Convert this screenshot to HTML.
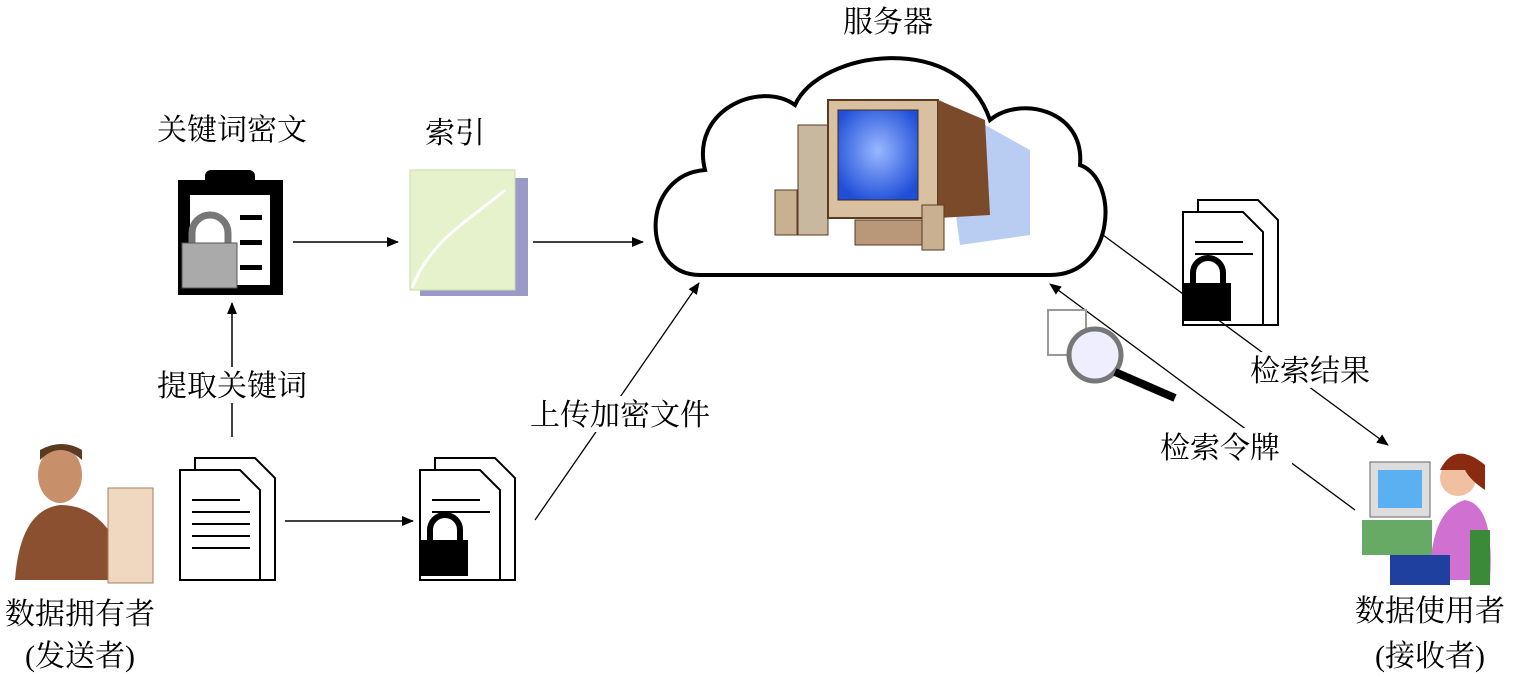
<!DOCTYPE html>
<html><head><meta charset="utf-8"><style>
html,body{margin:0;padding:0;background:#fff;width:1513px;height:677px;overflow:hidden}
text{font-family:"Liberation Serif","Noto Serif CJK SC",serif;font-size:30px;fill:#000}
</style></head><body>
<svg width="1513" height="677" viewBox="0 0 1513 677" xmlns="http://www.w3.org/2000/svg">
<defs>
<marker id="ah" markerWidth="12" markerHeight="10" refX="11" refY="5" orient="auto" markerUnits="userSpaceOnUse">
<path d="M0,0 L12,5 L0,10 z" fill="#000"/></marker>
<radialGradient id="scr" cx="50%" cy="45%" r="60%"><stop offset="0" stop-color="#9ab8ff"/><stop offset="1" stop-color="#1f4fd8"/></radialGradient>
</defs>

<!-- cloud -->
<path d="M700,275 C640,275 640,175 705,170 C690,110 760,80 795,105 C820,50 960,30 990,120 C1020,95 1085,110 1080,165 C1120,180 1115,275 1050,275 Z" fill="#fff" stroke="#000" stroke-width="4"/>
<text x="888" y="32" text-anchor="middle">服务器</text>
<!-- computer -->
<polygon points="940,100 1030,150 1030,235 960,245" fill="#a8c0f0" opacity="0.8"/>
<rect x="798" y="125" width="30" height="110" fill="#c9b8a0" stroke="#5a3a20"/>
<rect x="828" y="100" width="110" height="118" fill="#d8c0a0" stroke="#5a3a20" stroke-width="2"/>
<rect x="838" y="110" width="80" height="90" fill="url(#scr)" stroke="#3a2a1a"/>
<path d="M938,100 L985,120 L990,215 L938,218 Z" fill="#7a4a2a"/>
<rect x="855" y="220" width="80" height="25" fill="#b89878" stroke="#5a3a20"/>
<rect x="775" y="190" width="22" height="45" fill="#c8b090" stroke="#5a3a20"/>
<rect x="922" y="205" width="22" height="45" fill="#c8b090" stroke="#5a3a20"/>

<!-- clipboard -->
<text x="232" y="140" text-anchor="middle">关键词密文</text>
<rect x="178" y="180" width="105" height="115" fill="#000"/>
<rect x="205" y="170" width="50" height="20" rx="6" fill="#000"/>
<rect x="190" y="195" width="80" height="90" fill="#fff"/>
<rect x="240" y="215" width="22" height="5" fill="#000"/><rect x="240" y="240" width="22" height="5" fill="#000"/><rect x="240" y="265" width="22" height="5" fill="#000"/>
<path d="M192,245 v-12 a18,18 0 0 1 36,0 v12" fill="none" stroke="#777" stroke-width="7"/>
<rect x="182" y="243" width="55" height="45" fill="#aaa" stroke="#555"/>
<line x1="293" y1="242" x2="398" y2="242" stroke="#000" stroke-width="1.5" marker-end="url(#ah)"/>

<!-- index -->
<text x="455" y="143" text-anchor="middle">索引</text>
<rect x="420" y="178" width="108" height="118" fill="#9a9ac8"/>
<rect x="410" y="170" width="105" height="120" fill="#e6f2cc" stroke="#c8dca8"/>
<path d="M412,288 C430,240 470,220 505,190" fill="none" stroke="#fff" stroke-width="3"/>
<line x1="533" y1="242" x2="643" y2="242" stroke="#000" stroke-width="1.5" marker-end="url(#ah)"/>

<!-- extract keywords -->
<line x1="232" y1="437" x2="232" y2="303" stroke="#000" stroke-width="1.5" marker-end="url(#ah)"/>
<rect x="145" y="367" width="175" height="36" fill="#fff"/>
<text x="232" y="396" text-anchor="middle">提取关键词</text>

<!-- owner docs -->
<g stroke="#000" stroke-width="2" fill="#fff">
<path d="M195,458 h60 l20,20 v102 h-80 z"/>
<path d="M180,470 h60 l20,20 v90 h-80 z"/>
</g>
<g stroke="#000" stroke-width="2"><line x1="192" y1="500" x2="240" y2="500"/><line x1="192" y1="512" x2="250" y2="512"/><line x1="192" y1="524" x2="250" y2="524"/><line x1="192" y1="536" x2="250" y2="536"/><line x1="192" y1="548" x2="250" y2="548"/></g>
<line x1="285" y1="521" x2="413" y2="521" stroke="#000" stroke-width="1.5" marker-end="url(#ah)"/>

<!-- locked docs -->
<g stroke="#000" stroke-width="2" fill="#fff">
<path d="M435,458 h60 l20,20 v102 h-80 z"/>
<path d="M420,470 h60 l20,20 v90 h-80 z"/>
</g>
<g stroke="#000" stroke-width="2"><line x1="432" y1="500" x2="480" y2="500"/><line x1="432" y1="512" x2="490" y2="512"/></g>
<path d="M430,542 v-12 a15,15 0 0 1 30,0 v12" fill="none" stroke="#000" stroke-width="6"/>
<rect x="420" y="540" width="48" height="36" fill="#000"/>

<line x1="535" y1="520" x2="699" y2="283" stroke="#000" stroke-width="1.3" marker-end="url(#ah)"/>
<rect x="522" y="396" width="196" height="36" fill="#fff"/>
<text x="620" y="425" text-anchor="middle">上传加密文件</text>

<!-- owner person -->
<g>
<ellipse cx="60" cy="475" rx="22" ry="28" fill="#c8906a"/>
<path d="M40,460 q20,-20 42,0 v-10 q-20,-12 -42,0z" fill="#5a3a20"/>
<path d="M15,580 q5,-70 45,-75 q40,0 60,45 l-10,30 z" fill="#8a5030"/>
<rect x="108" y="488" width="45" height="95" fill="#f0d8c0" stroke="#a08060"/>
</g>
<text x="80" y="624" text-anchor="middle">数据拥有者</text>
<text x="80" y="666" text-anchor="middle">(发送者)</text>

<!-- results docs -->
<g stroke="#000" stroke-width="2" fill="#fff">
<path d="M1198,200 h60 l20,20 v105 h-80 z"/>
<path d="M1183,212 h60 l20,20 v93 h-80 z"/>
</g>
<g stroke="#000" stroke-width="2"><line x1="1195" y1="242" x2="1243" y2="242"/><line x1="1195" y1="254" x2="1253" y2="254"/></g>
<path d="M1193,285 v-12 a15,15 0 0 1 30,0 v12" fill="none" stroke="#000" stroke-width="6"/>
<rect x="1183" y="283" width="48" height="38" fill="#000"/>
<line x1="1103" y1="235" x2="1388" y2="445" stroke="#000" stroke-width="1.3" marker-end="url(#ah)"/>
<rect x="1242" y="352" width="136" height="36" fill="#fff"/>
<text x="1310" y="381" text-anchor="middle">检索结果</text>

<!-- token -->
<line x1="1355" y1="510" x2="1050" y2="284" stroke="#000" stroke-width="1.3" marker-end="url(#ah)"/>
<rect x="1148" y="428" width="144" height="36" fill="#fff"/>
<text x="1220" y="458" text-anchor="middle">检索令牌</text>
<rect x="1048" y="310" width="38" height="45" fill="#fff" stroke="#999" stroke-width="2"/>
<circle cx="1095" cy="355" r="26" fill="#eef" stroke="#777" stroke-width="5"/>
<line x1="1115" y1="372" x2="1175" y2="398" stroke="#000" stroke-width="8"/>

<!-- user -->
<rect x="1370" y="462" width="60" height="55" fill="#ddd" stroke="#666"/>
<rect x="1378" y="470" width="44" height="38" fill="#5ab0f0"/>
<rect x="1362" y="520" width="70" height="35" fill="#6a6" />
<circle cx="1458" cy="478" r="18" fill="#f0c0a0"/>
<path d="M1440,470 q15,-30 45,-5 v25 q-15,-10 -20,-20z" fill="#8a2a10"/>
<path d="M1430,580 q0,-70 35,-80 q30,5 25,80z" fill="#d070d0"/>
<rect x="1470" y="530" width="20" height="55" fill="#3a8a3a"/>
<rect x="1390" y="555" width="60" height="30" fill="#2040a0"/>
<text x="1430" y="621" text-anchor="middle">数据使用者</text>
<text x="1430" y="666" text-anchor="middle">(接收者)</text>
</svg>
</body></html>
